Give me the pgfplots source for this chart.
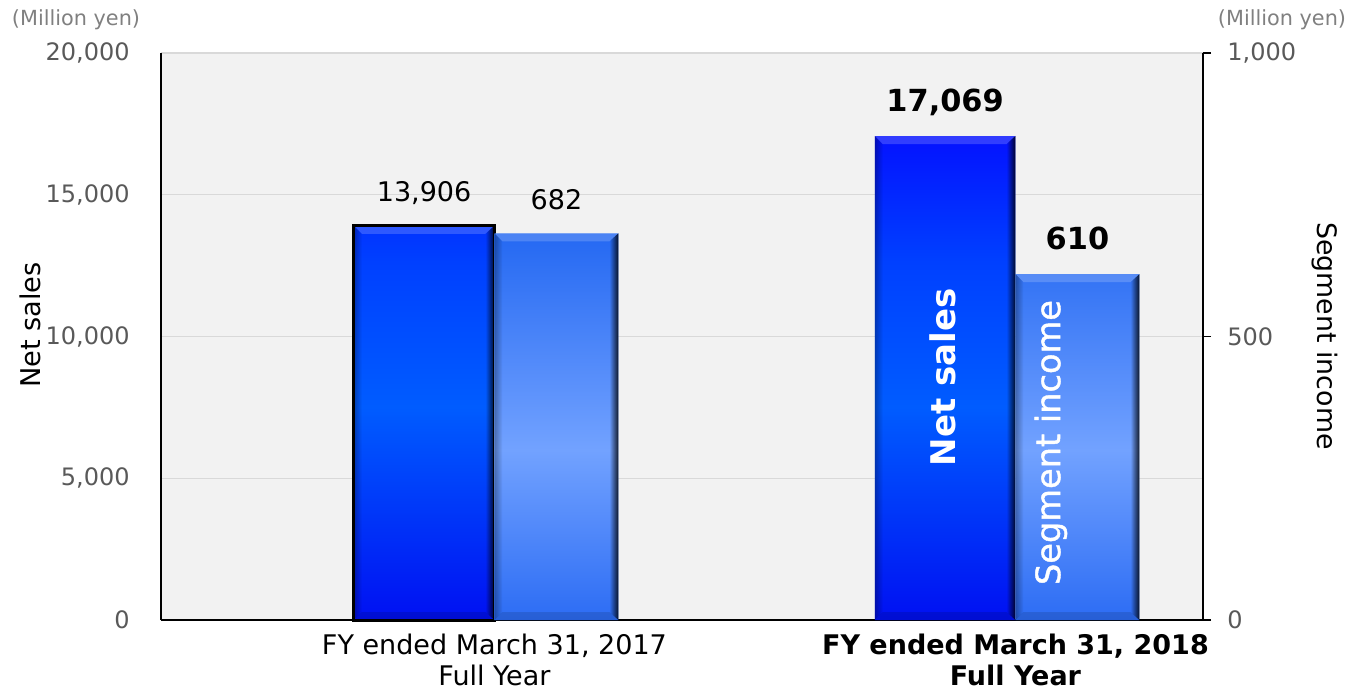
\documentclass[border=0pt]{standalone}
\usepackage{fontspec}
\setmainfont{DejaVu Sans}
\newfontfamily\fbfont[FakeBold=1.2]{DejaVu Sans}
\usepackage{pgfplots}
\pgfplotsset{compat=1.18}
\usetikzlibrary{fadings}
\tikzfading[name=fadeR, left color=transparent!100, right color=transparent!0]
\tikzfading[name=fadeL, left color=transparent!0, right color=transparent!100]
\definecolor{bgc}{HTML}{F2F2F2}
\definecolor{gridc}{HTML}{D9D9D9}
\definecolor{tickc}{HTML}{595959}
\definecolor{unitc}{HTML}{808080}
\definecolor{nsTop}{HTML}{0412FF}
\definecolor{nsUp}{HTML}{0040FF}
\definecolor{nsMid}{HTML}{005CFF}
\definecolor{nsBot}{HTML}{0010F2}
\definecolor{siTop}{HTML}{2468F2}
\definecolor{siMid}{HTML}{72A2FF}
\definecolor{siBot}{HTML}{2C6CF4}
\pgfdeclareverticalshading{nsshade}{100bp}{color(0bp)=(nsBot); color(25bp)=(nsBot); color(47bp)=(nsMid); color(62bp)=(nsUp); color(75bp)=(nsTop); color(100bp)=(nsTop)}
\pgfdeclareverticalshading{sishade}{100bp}{color(0bp)=(siBot); color(25bp)=(siBot); color(47bp)=(siMid); color(75bp)=(siTop); color(100bp)=(siTop)}
% bevel: #1 xl, #2 xr, #3 top, #4 xl+d, #5 xr-d, #6 top-dy, #7 dy
\newcommand{\bevel}[7]{%
\addplot[draw=none, fill=white, fill opacity=0.18] coordinates {(#1,#3) (#2,#3) (#5,#6) (#4,#6)} --cycle;
\addplot[draw=none, fill=black, path fading=fadeR, fill opacity=0.85] coordinates {(#2,0) (#2,#3) (#5,#6) (#5,#7)} --cycle;
\addplot[draw=none, fill=black, path fading=fadeL, fill opacity=0.3] coordinates {(#1,0) (#1,#3) (#4,#6) (#4,#7)} --cycle;
\addplot[draw=none, fill=black, fill opacity=0.12] coordinates {(#1,0) (#2,0) (#5,#7) (#4,#7)} --cycle;
}
\begin{document}
\begin{tikzpicture}
\useasboundingbox (-80.5pt,-35.5pt) rectangle (593.5pt,310pt);
\begin{axis}[
  at={(0pt,0pt)}, anchor=south west, scale only axis,
  width=521pt, height=283.5pt,
  xmin=-0.64, xmax=1.36, ymin=0, ymax=20000,
  clip=false,
  axis background/.style={fill=bgc},
  axis x line*=bottom, axis y line*=left,
  axis line style={black, line width=0.6pt},
  xtick={0,1},
  xticklabels={{FY ended March 31, 2017\\Full Year},{\bfseries FY ended March 31, 2018\\\bfseries Full Year}},
  xtick style={draw=none},
  ytick={0,5000,10000,15000,20000}, ytick style={draw=none},
  ymajorgrids, grid style={gridc, line width=0.6pt},
  scaled y ticks=false,
  yticklabel style={font=\fontsize{12}{14}\selectfont, text=tickc, inner sep=0pt, xshift=-15.5pt},
  xticklabel style={font=\fontsize{13.5}{15.5}\selectfont, align=center, inner sep=0pt, yshift=-7pt},
  /pgf/number format/1000 sep={,},
  /pgf/number format/assume math mode=true,
]
\addplot[ybar, bar width=0.27, bar shift=-0.135, shade, shading=nsshade, draw=none]
  coordinates {(0,13906) (1,17069)};
\bevel{-0.27}{0}{13906}{-0.2546}{-0.0173}{13624}{282}
\bevel{0.73}{1}{17069}{0.7454}{0.9827}{16787}{282}
\addplot[ybar, bar width=0.27, bar shift=-0.135, fill=none, draw=black, line width=1.5pt]
  coordinates {(0,13906)};
\node[anchor=base, inner sep=0pt, font=\fontsize{13.5}{16}\selectfont] at (axis cs:-0.135,13906) [yshift=12pt] {13,906};
\node[anchor=base, inner sep=0pt, font=\fontsize{15.2}{18}\selectfont\bfseries] at (axis cs:0.865,17069) [yshift=12.5pt] {17,069};
\node[rotate=90, inner sep=0pt, text=white, font=\fontsize{17}{20}\selectfont\bfseries] at (axis cs:0.861,8554) {Net sales};
\end{axis}
\begin{axis}[
  at={(0pt,0pt)}, anchor=south west, scale only axis,
  width=521pt, height=283.5pt,
  xmin=-0.64, xmax=1.36, ymin=0, ymax=1000,
  clip=false,
  axis x line=none, axis y line*=right,
  axis line style={black, line width=0.6pt},
  ytick={0,500,1000},
  tick align=outside, major tick length=4pt,
  ytick style={black, line width=0.6pt},
  scaled y ticks=false,
  yticklabel style={font=\fontsize{12}{14}\selectfont, text=tickc, inner sep=0pt, xshift=8pt},
  /pgf/number format/1000 sep={,},
  /pgf/number format/assume math mode=true,
]
\addplot[ybar, bar width=0.238, bar shift=0.119, shade, shading=sishade, draw=none]
  coordinates {(0,682) (1,610)};
\bevel{0}{0.238}{682}{0.0154}{0.2207}{667.9}{14.1}
\bevel{1}{1.238}{610}{1.0154}{1.2207}{595.9}{14.1}
\node[anchor=base, inner sep=0pt, font=\fontsize{13.5}{16}\selectfont] at (axis cs:0.119,682) [yshift=12pt] {682};
\node[anchor=base, inner sep=0pt, font=\fontsize{15.2}{18}\selectfont\bfseries] at (axis cs:1.119,610) [yshift=12.5pt] {610};
\node[rotate=90, inner sep=0pt, text=white, font=\fontsize{16.8}{20}\fbfont] at (axis cs:1.068,313) {Segment income};
\end{axis}
\node[rotate=90, inner sep=0pt, font=\fontsize{13.6}{16}\selectfont] at (-65.5pt,147.5pt) {Net sales};
\node[rotate=-90, inner sep=0pt, font=\fontsize{13.4}{16}\selectfont] at (582pt,142pt) {Segment income};
\node[inner sep=0pt, text=unitc, font=\fontsize{10.4}{12}\selectfont] at (-42.5pt,300pt) {(Million yen)};
\node[inner sep=0pt, text=unitc, font=\fontsize{10.4}{12}\selectfont] at (560.5pt,300pt) {(Million yen)};
\end{tikzpicture}
\end{document}
